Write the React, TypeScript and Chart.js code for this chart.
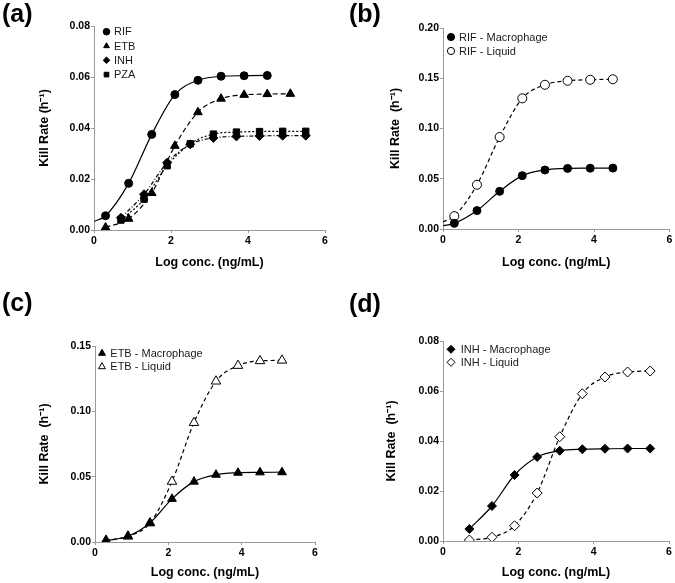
import React, { useEffect, useRef } from 'react';
import { Chart, registerables } from 'chart.js';

Chart.register(...registerables);

const FONT = '"Liberation Sans", Arial, Helvetica, sans-serif';
const AXIS = '#9a9a9a';

// ---- data (log conc., kill rate h^-1) ----
const xRIF = [0.3, 0.9, 1.5, 2.1, 2.7, 3.3, 3.9, 4.5];
const xETB = [0.3, 0.9, 1.5, 2.1, 2.7, 3.3, 3.9, 4.5, 5.1];
const xINH = [0.7, 1.3, 1.9, 2.5, 3.1, 3.7, 4.3, 4.9, 5.5];
const xPZA = [0.7, 1.3, 1.9, 2.5, 3.1, 3.7, 4.3, 4.9, 5.5];

const rifMacrophage = [0.0056, 0.0183, 0.0375, 0.0531, 0.0587, 0.0603, 0.0605, 0.0606];
const rifLiquid = [0.0128, 0.0440, 0.0915, 0.1300, 0.1435, 0.1475, 0.1485, 0.1490];
const etbMacrophage = [0.0010, 0.0044, 0.0145, 0.0330, 0.0462, 0.0515, 0.0530, 0.0533, 0.0534];
const etbLiquid = [0.0012, 0.0044, 0.0145, 0.0463, 0.0913, 0.1230, 0.1350, 0.1386, 0.1390];
const inhMacrophage = [0.0048, 0.0140, 0.0264, 0.0336, 0.0361, 0.0367, 0.0369, 0.0370, 0.0370];
const inhLiquid = [0.0004, 0.0015, 0.0061, 0.0192, 0.0417, 0.0589, 0.0656, 0.0676, 0.0680];
const pzaMacrophage = [0.0039, 0.0121, 0.0252, 0.0338, 0.0376, 0.0384, 0.0386, 0.0387, 0.0387];

// fitted-curve values at log conc. 0 (curves start before first point)
const rifMacCurveStart = [0, 0.0033];
const rifLiqCurveStart = [0, 0.0070];

const xTicks = [0, 2, 4, 6];
const yTicksA = [0, 0.02, 0.04, 0.06, 0.08];
const yTicksB = [0, 0.05, 0.1, 0.15, 0.2];
const yTicksC = [0, 0.05, 0.1, 0.15];
const yTicksD = [0, 0.02, 0.04, 0.06, 0.08];

type Series = {
  label: string;
  xs: number[];
  ys: number[];
  style: string;
  filled: boolean;
  radius: number;
  dash: number[];
  start?: number[];
};

type Panel = {
  tag: string;
  box: { left: number; top: number; w: number; h: number };
  pad: { left: number; right: number; top: number; bottom: number };
  yW: number;
  xH: number;
  yTicks: number[];
  yTitle: string;
  series: Series[];
  legend: { dx: number; dy: number; row: number; tx: number; r: number; size: number };
  tagPos: { left: number; top: number };
};

const panels: Panel[] = [
  {
    tag: '(a)',
    box: { left: 0, top: 0, w: 337, h: 290 },
    pad: { left: 37.5, right: 12, top: 26, bottom: 19.5 },
    yW: 56.5,
    xH: 40.5,
    yTicks: yTicksA,
    yTitle: 'Kill Rate (h\u207B\u00B9)',
    series: [
      { label: 'RIF', xs: xRIF, ys: rifMacrophage, style: 'circle', filled: true, radius: 4, dash: [], start: rifMacCurveStart },
      { label: 'ETB', xs: xETB, ys: etbMacrophage, style: 'triangle', filled: true, radius: 5, dash: [5, 3] },
      { label: 'INH', xs: xINH, ys: inhMacrophage, style: 'rectRot', filled: true, radius: 4.5, dash: [4, 2, 1, 2] },
      { label: 'PZA', xs: xPZA, ys: pzaMacrophage, style: 'rect', filled: true, radius: 4.5, dash: [2, 2] },
    ],
    legend: { dx: 12.5, dy: 5.7, row: 14.3, tx: 7.5, r: 3.3, size: 11 },
    tagPos: { left: 2, top: 1 },
  },
  {
    tag: '(b)',
    box: { left: 337, top: 0, w: 338, h: 290 },
    pad: { left: 51.5, right: 5, top: 28, bottom: 19.5 },
    yW: 54.5,
    xH: 41.5,
    yTicks: yTicksB,
    yTitle: 'Kill Rate  (h\u207B\u00B9)',
    series: [
      { label: 'RIF - Macrophage', xs: xRIF, ys: rifMacrophage, style: 'circle', filled: true, radius: 4, dash: [], start: rifMacCurveStart },
      { label: 'RIF - Liquid', xs: xRIF, ys: rifLiquid, style: 'circle', filled: false, radius: 4.5, dash: [4, 3], start: rifLiqCurveStart },
    ],
    legend: { dx: 8, dy: 9, row: 14, tx: 8, r: 3.6, size: 11 },
    tagPos: { left: 349, top: 1 },
  },
  {
    tag: '(c)',
    box: { left: 0, top: 290, w: 337, h: 293 },
    pad: { left: 37.5, right: 22, top: 56, bottom: 2.5 },
    yW: 57.5,
    xH: 38.5,
    yTicks: yTicksC,
    yTitle: 'Kill Rate  (h\u207B\u00B9)',
    series: [
      { label: 'ETB - Macrophage', xs: xETB, ys: etbMacrophage, style: 'triangle', filled: true, radius: 5, dash: [] },
      { label: 'ETB - Liquid', xs: xETB, ys: etbLiquid, style: 'triangle', filled: false, radius: 5.5, dash: [4, 3] },
    ],
    legend: { dx: 7, dy: 7.3, row: 13.4, tx: 8.3, r: 4, size: 11 },
    tagPos: { left: 2, top: 290 },
  },
  {
    tag: '(d)',
    box: { left: 337, top: 290, w: 338, h: 293 },
    pad: { left: 47.5, right: 6, top: 51, bottom: 2.5 },
    yW: 58.5,
    xH: 39.5,
    yTicks: yTicksD,
    yTitle: 'Kill Rate  (h\u207B\u00B9)',
    series: [
      { label: 'INH - Macrophage', xs: xINH, ys: inhMacrophage, style: 'rectRot', filled: true, radius: 4.5, dash: [] },
      { label: 'INH - Liquid', xs: xINH, ys: inhLiquid, style: 'rectRot', filled: false, radius: 5, dash: [4, 3] },
    ],
    legend: { dx: 8, dy: 8.3, row: 13, tx: 9.7, r: 4, size: 11 },
    tagPos: { left: 349, top: 291 },
  },
];

function drawMarker(ctx: CanvasRenderingContext2D, style: string, x: number, y: number, r: number, filled: boolean) {
  ctx.save();
  ctx.beginPath();
  if (style === 'circle') {
    ctx.arc(x, y, r, 0, Math.PI * 2);
  } else if (style === 'triangle') {
    let a = 0;
    ctx.moveTo(x + Math.sin(a) * r, y - Math.cos(a) * r);
    a += (Math.PI * 2) / 3;
    ctx.lineTo(x + Math.sin(a) * r, y - Math.cos(a) * r);
    a += (Math.PI * 2) / 3;
    ctx.lineTo(x + Math.sin(a) * r, y - Math.cos(a) * r);
    ctx.closePath();
  } else if (style === 'rectRot') {
    ctx.moveTo(x, y - r);
    ctx.lineTo(x + r, y);
    ctx.lineTo(x, y + r);
    ctx.lineTo(x - r, y);
    ctx.closePath();
  } else {
    const s = Math.SQRT1_2 * r;
    ctx.rect(x - s, y - s, 2 * s, 2 * s);
  }
  ctx.fillStyle = filled ? '#000' : '#fff';
  ctx.fill();
  ctx.lineWidth = 1;
  ctx.strokeStyle = '#000';
  ctx.stroke();
  ctx.restore();
}

const keyLegend = {
  id: 'keyLegend',
  afterDatasetsDraw(chart: any, _args: any, opts: any) {
    const ctx: CanvasRenderingContext2D = chart.ctx;
    const { left, top } = chart.chartArea;
    const lg = opts.legend;
    const series: Series[] = opts.series || [];
    series.forEach((s, i) => {
      const cx = left + lg.dx;
      const cy = top + lg.dy + i * lg.row;
      drawMarker(ctx, s.style, cx, cy, lg.r, s.filled);
      ctx.save();
      ctx.font = `${lg.size}px ${FONT}`;
      ctx.fillStyle = '#1a1a1a';
      ctx.textBaseline = 'middle';
      ctx.textAlign = 'left';
      ctx.fillText(s.label, cx + lg.tx, cy + 0.5);
      ctx.restore();
    });
  },
};

function buildDatasets(series: Series[]) {
  const ds: any[] = [];
  series.forEach((s) => {
    const pts = s.xs.map((x, i) => ({ x, y: s.ys[i] }));
    ds.push({
      label: s.label,
      data: pts,
      showLine: false,
      pointStyle: s.style,
      pointRadius: s.radius,
      pointBackgroundColor: s.filled ? '#000' : '#fff',
      pointBorderColor: '#000',
      pointBorderWidth: 1,
      order: 0,
    });
    const curve = s.start ? [{ x: s.start[0], y: s.start[1] }, ...pts] : pts;
    ds.push({
      label: s.label + ' (fit)',
      data: curve,
      showLine: true,
      pointRadius: 0,
      borderColor: '#000',
      borderWidth: 1.2,
      borderDash: s.dash,
      cubicInterpolationMode: 'monotone',
      fill: false,
      order: 1,
    });
  });
  return ds;
}

function PanelChart({ p }: { p: Panel }) {
  const ref = useRef<HTMLCanvasElement | null>(null);
  useEffect(() => {
    if (!ref.current) return;
    const tickFont = { family: FONT, size: 10.5, weight: 'bold' as const };
    const titleFont = { family: FONT, size: 12.5, weight: 'bold' as const };
    const chart = new Chart(ref.current, {
      type: 'scatter',
      data: { datasets: buildDatasets(p.series) },
      options: {
        animation: false,
        responsive: false,
        events: [],
        layout: { padding: p.pad },
        plugins: {
          legend: { display: false },
          tooltip: { enabled: false },
          keyLegend: { series: p.series, legend: p.legend },
        } as any,
        scales: {
          x: {
            type: 'linear',
            min: xTicks[0],
            max: xTicks[xTicks.length - 1],
            afterBuildTicks: (s: any) => {
              s.ticks = xTicks.map((v) => ({ value: v }));
            },
            afterFit: (s: any) => {
              s.height = p.xH;
            },
            grid: { drawOnChartArea: false, tickLength: 3, color: AXIS },
            border: { color: AXIS, width: 1 },
            ticks: { padding: 2, color: '#000', font: tickFont, maxRotation: 0, callback: (v: any) => String(v) },
            title: { display: true, text: 'Log conc. (ng/mL)', color: '#000', font: titleFont, padding: 0 },
          },
          y: {
            type: 'linear',
            min: p.yTicks[0],
            max: p.yTicks[p.yTicks.length - 1],
            afterBuildTicks: (s: any) => {
              s.ticks = p.yTicks.map((v) => ({ value: v }));
            },
            afterFit: (s: any) => {
              s.width = p.yW;
            },
            grid: { drawOnChartArea: false, tickLength: 3, color: AXIS },
            border: { color: AXIS, width: 1 },
            ticks: { padding: 1, color: '#000', font: tickFont, callback: (v: any) => Number(v).toFixed(2) },
            title: { display: true, text: p.yTitle, color: '#000', font: titleFont, padding: 0 },
          },
        },
      },
      plugins: [keyLegend],
    } as any);
    return () => chart.destroy();
  }, [p]);
  return (
    <canvas
      ref={ref}
      width={p.box.w}
      height={p.box.h}
      style={{ position: 'absolute', left: p.box.left, top: p.box.top, width: p.box.w, height: p.box.h }}
    />
  );
}

export default function App() {
  return (
    <div style={{ position: 'absolute', left: 0, top: 0, width: 675, height: 583, background: '#fff', overflow: 'hidden' }}>
      {panels.map((p) => (
        <PanelChart key={p.tag} p={p} />
      ))}
      {panels.map((p) => (
        <div
          key={p.tag + '-tag'}
          style={{
            position: 'absolute',
            left: p.tagPos.left,
            top: p.tagPos.top,
            fontFamily: FONT,
            fontWeight: 'bold',
            fontSize: 25,
            lineHeight: '25px',
            color: '#000',
            whiteSpace: 'nowrap',
          }}
        >
          {p.tag}
        </div>
      ))}
    </div>
  );
}
